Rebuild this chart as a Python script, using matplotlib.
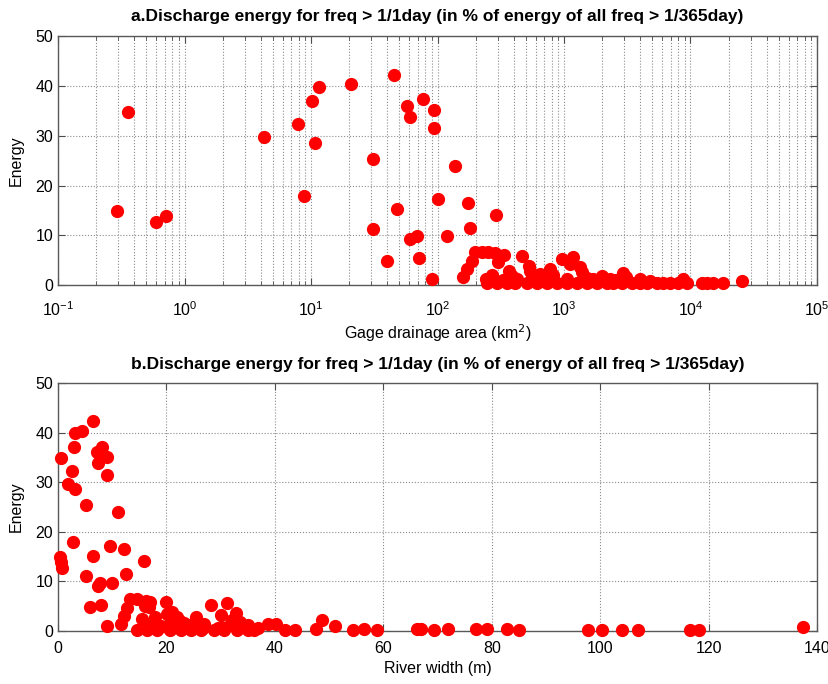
import numpy as np
import matplotlib
matplotlib.use("Agg")
import matplotlib.pyplot as plt
from matplotlib.ticker import LogLocator, NullFormatter

# panel a: drainage area (km2) vs energy (%)
area_km2 = [0.29, 0.36, 0.60, 0.72, 4.27, 7.9, 8.8, 10.2, 11.5, 10.7, 20.6, 31, 31, 40,
            45.7, 48, 57.5, 61, 61, 69, 71, 76.4, 93, 93, 90.6, 101, 118, 138, 173, 182,
            292, 199, 225, 253, 286, 333, 303, 187, 171, 159, 365, 464, 525, 540, 778,
            646, 960, 1188, 1342, 1120, 1510, 1986, 2950, 3990, 8740, 25700,
            246, 295, 354, 412, 510, 611, 733, 879, 1054, 1264, 1517, 1819, 2182, 2461,
            2866, 3437, 3994, 4508, 5407, 6096, 6883, 8011, 9331, 12250, 13420, 15140,
            18150, 240, 427, 733, 1054, 1710, 2317,
            270, 330, 390, 560, 680, 820, 1400, 1650, 2600, 3100, 4800]
energy_a = [15.0, 34.8, 12.6, 13.9, 29.8, 32.3, 18.0, 37.0, 39.8, 28.6, 40.4, 25.4, 11.2, 4.9,
            42.3, 15.3, 35.9, 33.8, 9.2, 9.8, 5.5, 37.3, 35.1, 31.6, 1.3, 17.3, 9.9, 24.0, 16.5, 11.4,
            14.2, 6.6, 6.7, 6.6, 6.5, 6.1, 4.6, 4.9, 3.2, 1.7, 2.9, 5.9, 3.9, 2.9, 3.2,
            2.2, 5.3, 5.7, 3.7, 4.2, 1.5, 1.9, 2.5, 1.2, 1.2, 0.9,
            0.4, 0.4, 0.4, 0.4, 0.4, 0.4, 0.4, 0.4, 0.4, 0.4, 0.4, 0.4, 0.4, 0.4,
            0.4, 0.4, 0.4, 0.4, 0.4, 0.4, 0.4, 0.4, 0.4, 0.4, 0.4, 0.4,
            0.4, 1.2, 1.2, 1.2, 1.2, 1.2, 1.2,
            2.0, 1.0, 1.8, 1.5, 0.9, 2.0, 2.6, 0.9, 1.0, 1.6, 0.8]

# panel b: river width (m) vs energy (%)
width_m = [6.4, 3.1, 4.5, 3.0, 0.5, 7.1, 8.2, 9.1, 7.4, 9.0, 2.6, 1.9, 3.1, 5.1, 11.0,
           2.8, 9.5, 12.2, 0.3, 0.6, 0.8, 6.4, 15.8, 5.1, 12.6, 7.4, 7.7, 10.0, 5.9, 7.9,
           9.1, 11.6, 12.1, 12.7, 13.2, 14.6, 16.3, 17.0, 16.0, 16.7, 20.0, 17.8, 20.1, 21.1,
           22.0, 25.4, 28.2, 31.1, 30.0, 32.8, 38.7, 40.2,
           14.6, 16.4, 18.3, 20.7, 22.6, 24.5, 26.3, 28.8, 30.7, 33.1, 35.0, 36.2, 41.8, 43.7,
           17.5, 22.5, 27.0, 33.5, 35.0, 19.0, 24.0, 30.0,
           15.5, 18.8, 21.5, 23.3, 25.8, 29.5, 31.8, 34.2, 36.8, 20.8, 26.8, 32.0,
           47.6, 48.7, 51.0, 54.4, 56.5, 58.9, 66.2, 66.9, 69.4, 71.9, 77.1, 79.2, 82.9, 85.0,
           97.8, 100.3, 104.0, 106.9, 116.6, 118.3, 137.4]
energy_b = [42.3, 39.9, 40.4, 37.1, 34.8, 36.0, 37.2, 35.0, 33.8, 31.5, 32.3, 29.7, 28.6, 25.4, 24.0,
            18.0, 17.2, 16.5, 15.0, 13.9, 12.7, 15.1, 14.2, 11.0, 11.4, 9.1, 9.7, 9.7, 4.8, 5.3,
            1.1, 1.4, 3.1, 4.6, 6.5, 6.5, 6.1, 5.8, 5.1, 4.8, 5.8, 2.8, 3.4, 3.8,
            2.8, 2.9, 5.3, 5.6, 3.3, 3.6, 1.4, 1.5,
            0.3, 0.3, 0.3, 0.3, 0.3, 0.3, 0.3, 0.3, 0.3, 0.3, 0.3, 0.3, 0.3, 0.3,
            1.5, 2.0, 1.5, 1.8, 1.2, 1.0, 1.2, 0.8,
            2.4, 0.9, 1.1, 1.6, 1.0, 0.7, 1.3, 0.9, 0.6, 2.3, 0.6, 2.2,
            0.5, 2.2, 1.0, 0.3, 0.5, 0.3, 0.4, 0.4, 0.3, 0.4, 0.4, 0.4, 0.5, 0.3,
            0.3, 0.3, 0.3, 0.3, 0.3, 0.3, 0.8]

title_txt = "Discharge energy for freq > 1/1day (in % of energy of all freq > 1/365day)"

plt.rcParams['font.family'] = ['Liberation Sans', 'DejaVu Sans']

fig = plt.figure(figsize=(8.29, 6.84), dpi=100)
ax1 = fig.add_axes([0.070, 0.583, 0.9155, 0.364])
ax2 = fig.add_axes([0.070, 0.0775, 0.9155, 0.3625])

grid_kw = dict(color='0.55', linestyle=':', linewidth=0.8)

ax1.plot(area_km2, energy_a, 'o', color='red', ms=8.5, mec='red', clip_on=False, zorder=3)
ax1.set_xscale('log')
ax1.set_xlim(1e-1, 1e5)
ax1.xaxis.set_major_locator(LogLocator(base=10, numticks=10))
ax1.xaxis.set_minor_locator(LogLocator(base=10, subs=np.arange(2, 10), numticks=100))
ax1.xaxis.set_minor_formatter(NullFormatter())
ax1.grid(True, which='major', **grid_kw)
ax1.grid(True, which='minor', axis='x', **grid_kw)
ax1.tick_params(axis='x', which='major', pad=11)
ax1.set_xlabel('Gage drainage area (km$^2$)', fontsize=11.5, labelpad=2)
ax1.set_title('a.' + title_txt, fontsize=12.5, fontweight='bold', pad=11)

ax2.plot(width_m, energy_b, 'o', color='red', ms=8.5, mec='red', clip_on=False, zorder=3)
ax2.set_xlim(0, 140)
ax2.set_xticks(np.arange(0, 141, 20))
ax2.grid(True, which='major', **grid_kw)
ax2.tick_params(axis='x', which='major', pad=7)
ax2.set_xlabel('River width (m)', fontsize=11.5, labelpad=4)
ax2.set_title('b.' + title_txt, fontsize=12.5, fontweight='bold', pad=10)

for ax in (ax1, ax2):
    ax.set_ylim(0, 50)
    ax.set_yticks(np.arange(0, 51, 10))
    ax.set_ylabel('Energy', fontsize=11.5, labelpad=8)
    ax.tick_params(which='both', direction='in', top=True, right=True, labelsize=11.5,
                   color='0.3')
    ax.tick_params(which='major', length=5)
    ax.tick_params(which='minor', length=3)
    for s in ax.spines.values():
        s.set_color('0.35')
        s.set_linewidth(1.0)
    ax.set_axisbelow(True)

fig.savefig('out.png', dpi=100, facecolor='white')
